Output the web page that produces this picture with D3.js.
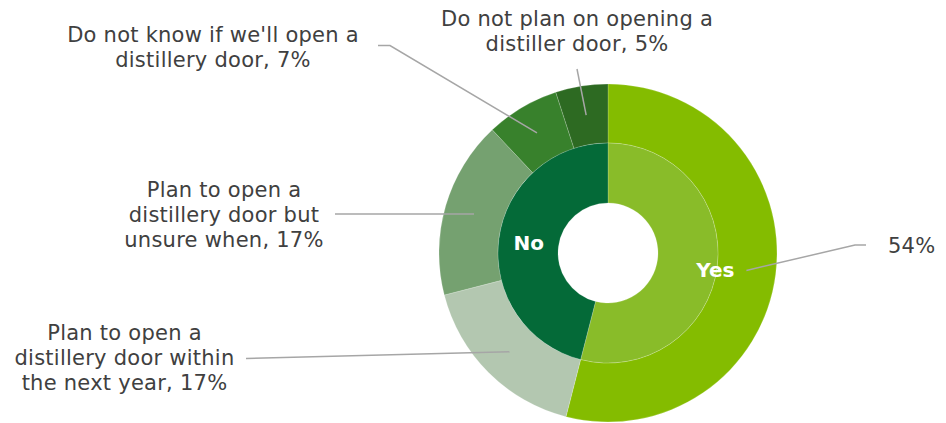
<!DOCTYPE html>
<html>
<head>
<meta charset="utf-8">
<script src="https://cdn.jsdelivr.net/npm/d3@7"></script>
<style>
  html, body { margin: 0; padding: 0; background: #fff; }
  svg { display: block; }
  text { font-family: "DejaVu Sans", Verdana, sans-serif; }
</style>
</head>
<body>
<svg id="chart" width="946" height="423"></svg>
<script>
// Inner ring: plans to open a distillery door (yes / no)
const innerLabels = ["Yes", "No"];
const innerValues = [54, 46];
const innerColors = ["#89BC29", "#046A38"];

// Outer ring: breakdown of answers
const outerLabels = [
  ["54%"],
  ["Plan to open a", "distillery door within", "the next year, 17%"],
  ["Plan to open a", "distillery door but", "unsure when, 17%"],
  ["Do not know if we'll open a", "distillery door, 7%"],
  ["Do not plan on opening a", "distiller door, 5%"]
];
const outerValues = [54, 17, 17, 7, 5];
const outerColors = ["#84BC00", "#B3C7B0", "#75A170", "#38812C", "#2D6A22"];

// Layout
const cx = 608, cy = 253;
const rHole = 50, rMid = 110, rOuter = 169;
const textColor = "#404040";
const leaderColor = "#A6A6A6";

// Label placement for each outer slice: text position, anchor, and leader elbow points
const outerLayout = [
  { x: 888, y: 253, anchor: "start", elbow: [[866, 245], [855, 245]] },
  { x: 124.5, y: 340, anchor: "middle", elbow: [[246, 358.5]] },
  { x: 224, y: 197, anchor: "middle", elbow: [[335, 214]] },
  { x: 213, y: 41.7, anchor: "middle", elbow: [[378, 45.5], [390, 45.5]] },
  { x: 577, y: 26, anchor: "middle", elbow: [[577, 69]] }
];
const lineGap = 25;

const svg = d3.select("#chart");
const g = svg.append("g").attr("transform", `translate(${cx},${cy})`);

const pie = d3.pie().sort(null).value(d => d);

const innerArc = d3.arc().innerRadius(rHole).outerRadius(rMid);
const outerArc = d3.arc().innerRadius(rMid).outerRadius(rOuter);

const innerData = pie(innerValues);
const outerData = pie(outerValues);

g.selectAll("path.outer")
  .data(outerData)
  .join("path")
  .attr("class", "outer")
  .attr("d", outerArc)
  .attr("fill", (d, i) => outerColors[i])
  .attr("stroke", "#ffffff")
  .attr("stroke-opacity", 0.25)
  .attr("stroke-width", 0.75);

g.selectAll("path.inner")
  .data(innerData)
  .join("path")
  .attr("class", "inner")
  .attr("d", innerArc)
  .attr("fill", (d, i) => innerColors[i])
  .attr("stroke", "#ffffff")
  .attr("stroke-opacity", 0.25)
  .attr("stroke-width", 0.75);

// Leader lines from each outer slice's centroid to its label
const line = d3.line();
outerData.forEach((d, i) => {
  const c = outerArc.centroid(d);
  const pts = outerLayout[i].elbow.map(p => [p[0] - cx, p[1] - cy]).concat([c]);
  g.append("path")
    .attr("d", line(pts))
    .attr("fill", "none")
    .attr("stroke", leaderColor)
    .attr("stroke-width", 1.5);
});

// Outer labels
outerLabels.forEach((lines, i) => {
  const L = outerLayout[i];
  const t = svg.append("text")
    .attr("x", L.x)
    .attr("y", L.y)
    .attr("text-anchor", L.anchor)
    .attr("fill", textColor)
    .attr("font-size", 21)
    .attr("letter-spacing", 0.25);
  lines.forEach((s, k) => {
    t.append("tspan")
      .attr("x", L.x)
      .attr("y", L.y + k * lineGap)
      .text(s);
  });
});

// Inner labels
const innerOffset = [[28, 7], [0, 0]];
innerData.forEach((d, i) => {
  const c = innerArc.centroid(d);
  g.append("text")
    .attr("x", c[0] + innerOffset[i][0])
    .attr("y", c[1] + innerOffset[i][1])
    .attr("dy", "0.36em")
    .attr("text-anchor", "middle")
    .attr("fill", "#ffffff")
    .attr("font-weight", "bold")
    .attr("font-size", 20)
    .text(innerLabels[i]);
});
</script>
</body>
</html>
